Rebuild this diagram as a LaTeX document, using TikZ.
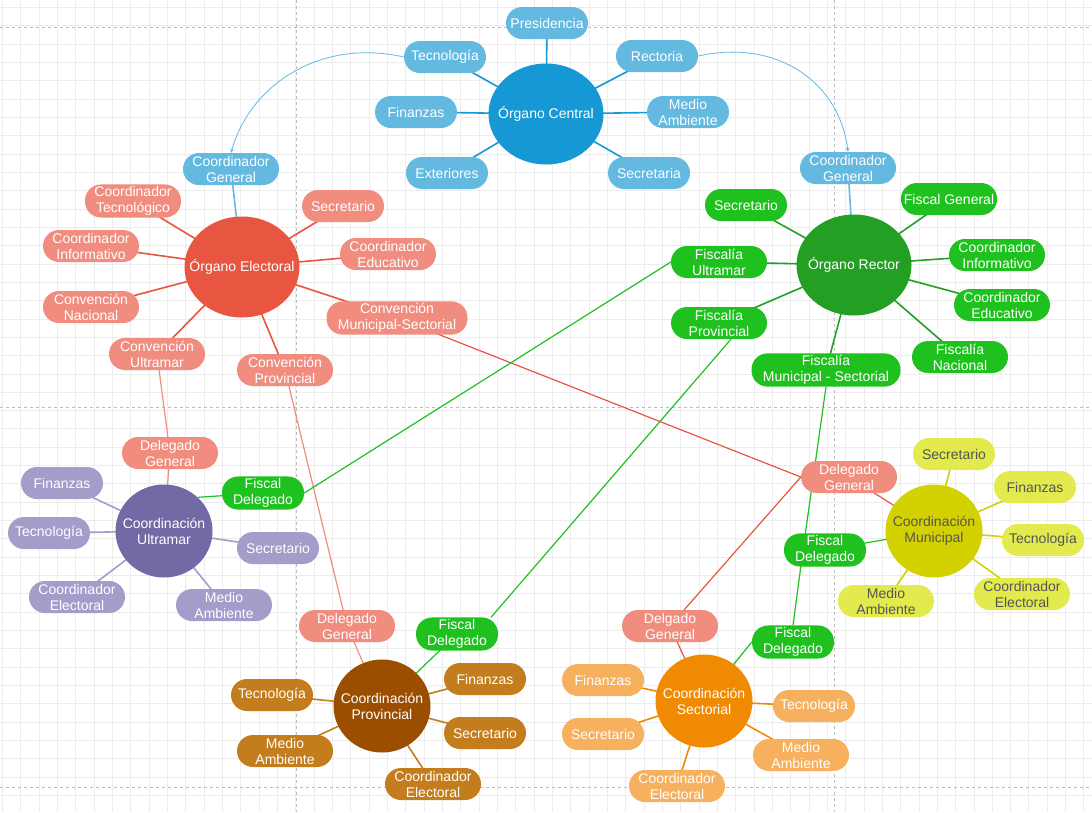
\documentclass[tikz,border=0pt]{standalone}
\usepackage{fontspec}
\setmainfont{Liberation Sans}
\usepackage{tikz}
\usetikzlibrary{arrows,shapes.geometric,backgrounds}

\definecolor{cenhub}{HTML}{1598D3}
\definecolor{censat}{HTML}{64B9E1}
\definecolor{elehub}{HTML}{E85641}
\definecolor{elesat}{HTML}{F08D7F}
\definecolor{rechub}{HTML}{23A023}
\definecolor{recsat}{HTML}{1FC11F}
\definecolor{ulthub}{HTML}{7369A5}
\definecolor{ultsat}{HTML}{A29DC9}
\definecolor{prohub}{HTML}{9B4D00}
\definecolor{prosat}{HTML}{C37D1D}
\definecolor{sechub}{HTML}{F18A03}
\definecolor{secsat}{HTML}{F6B05E}
\definecolor{munhub}{HTML}{D4D100}
\definecolor{munsat}{HTML}{E2EA4D}
\definecolor{muntext}{HTML}{555555}
\definecolor{gridgray}{HTML}{ECECEC}
\definecolor{pagegray}{HTML}{BDBDBD}

\begin{document}
\begin{tikzpicture}[x=1pt,y=-1pt,>=stealth,
  every node/.style={font=\fontsize{14}{16}\selectfont,align=center,text=white},
  hub/.style={ellipse,minimum width=115,minimum height=101,inner xsep=-20pt,inner ysep=0pt},
  chub/.style={hub,minimum width=97,minimum height=93},
  sat/.style={rectangle,rounded corners=16,minimum width=82,minimum height=32,inner xsep=3,inner ysep=2},
  two/.style={sat,minimum width=96},
  mun/.style={fill=munsat,text=muntext},
  spoke/.style={line width=1.6},
  cross/.style={line width=1.2},
  gridline/.style={gridgray,line width=0.8},
  pageline/.style={pagegray,dashed,line width=0.8}]
\useasboundingbox (0,0) rectangle (1092,812);

% Organo Central
\node[hub,fill=cenhub] (central) at (546,114) {Órgano Central};
\node[sat,fill=censat] (pres) at (547,23) {Presidencia};
\node[sat,fill=censat] (tec) at (445,57) {Tecnología};
\node[sat,fill=censat] (fin) at (416,112) {Finanzas};
\node[sat,fill=censat] (ext) at (447,173) {Exteriores};
\node[sat,fill=censat] (rect) at (657,56) {Rectoria};
\node[sat,fill=censat] (medc) at (688,112) {Medio\\Ambiente};
\node[sat,fill=censat] (secc) at (649,173) {Secretaria};

% Organo Electoral
\node[hub,fill=elehub] (elec) at (242,267) {Órgano Electoral};
\node[two,fill=censat] (ecg) at (231,169) {Coordinador\\General};
\node[two,fill=elesat] (ect) at (133,201) {Coordinador\\Tecnológico};
\node[two,fill=elesat] (eci) at (91,246) {Coordinador\\Informativo};
\node[two,fill=elesat] (ecn) at (91,307) {Convención\\Nacional};
\node[two,fill=elesat] (ecu) at (157,354) {Convención\\Ultramar};
\node[two,fill=elesat] (ecp) at (285,370) {Convención\\Provincial};
\node[two,fill=elesat,minimum width=141] (ecms) at (397,318) {Convención\\Municipal-Sectorial};
\node[two,fill=elesat] (ece) at (388,254) {Coordinador\\Educativo};
\node[sat,fill=elesat] (esec) at (343,206) {Secretario};

% Organo Rector
\node[hub,fill=rechub] (rector) at (854,265) {Órgano Rector};
\node[two,fill=censat] (rcg) at (848,168) {Coordinador\\General};
\node[sat,fill=recsat] (rsec) at (746,205) {Secretario};
\node[sat,fill=recsat] (rfg) at (949,199) {Fiscal General};
\node[two,fill=recsat] (rci) at (997,255) {Coordinador\\Informativo};
\node[two,fill=recsat] (rce) at (1002,305) {Coordinador\\Educativo};
\node[two,fill=recsat] (rfn) at (960,357) {Fiscalía\\Nacional};
\node[two,fill=recsat,minimum width=149] (rfms) at (826,370) {Fiscalía\\Municipal - Sectorial};
\node[two,fill=recsat] (rfp) at (719,323) {Fiscalía\\Provincial};
\node[two,fill=recsat] (rfu) at (719,262) {Fiscalía\\Ultramar};

% Coordinacion Ultramar
\node[chub,fill=ulthub] (ultra) at (164,531) {Coordinación\\Ultramar};
\node[two,fill=elesat] (udg) at (170,453) {Delegado\\General};
\node[sat,fill=ultsat] (ufin) at (62,483) {Finanzas};
\node[sat,fill=ultsat] (utec) at (49,533) {Tecnología};
\node[two,fill=ultsat] (uce) at (77,597) {Coordinador\\Electoral};
\node[two,fill=ultsat] (uma) at (224,605) {Medio\\Ambiente};
\node[sat,fill=ultsat] (usec) at (278,548) {Secretario};
\node[sat,fill=recsat] (ufd) at (263,493) {Fiscal\\Delegado};

% Coordinacion Provincial
\node[chub,fill=prohub] (prov) at (382,706) {Coordinación\\Provincial};
\node[two,fill=elesat] (pdg) at (347,626) {Delegado\\General};
\node[sat,fill=recsat] (pfd) at (457,634) {Fiscal\\Delegado};
\node[sat,fill=prosat] (pfin) at (485,679) {Finanzas};
\node[sat,fill=prosat] (psec) at (485,733) {Secretario};
\node[two,fill=prosat] (pce) at (433,784) {Coordinador\\Electoral};
\node[two,fill=prosat] (pma) at (285,751) {Medio\\Ambiente};
\node[sat,fill=prosat] (ptec) at (272,695) {Tecnología};

% Coordinacion Sectorial
\node[chub,fill=sechub] (sect) at (704,701) {Coordinación\\Sectorial};
\node[two,fill=elesat] (sdg) at (670,626) {Delgado\\General};
\node[sat,fill=recsat] (sfd) at (793,642) {Fiscal\\Delegado};
\node[sat,fill=secsat] (sfin) at (603,680) {Finanzas};
\node[sat,fill=secsat] (ssec) at (603,734) {Secretario};
\node[two,fill=secsat] (sce) at (677,786) {Coordinador\\Electoral};
\node[two,fill=secsat] (sma) at (801,755) {Medio\\Ambiente};
\node[sat,fill=secsat] (stec) at (814,706) {Tecnología};

% Coordinacion Municipal
\node[chub,fill=munhub,text=muntext] (muni) at (934,531) {Coordinación\\Municipal};
\node[two,fill=elesat] (mdg) at (849,477) {Delegado\\General};
\node[sat,fill=recsat] (mfd) at (825,550) {Fiscal\\Delegado};
\node[sat,mun] (msec) at (954,454) {Secretario};
\node[sat,mun] (mfin) at (1035,487) {Finanzas};
\node[sat,mun] (mtec) at (1043,540) {Tecnología};
\node[two,mun] (mce) at (1022,594) {Coordinador\\Electoral};
\node[two,mun] (mma) at (886,601) {Medio\\Ambiente};

\begin{scope}[on background layer]
\fill[white] (0,0) rectangle (1092,812);
\foreach \i in {0,...,59} \draw[gridline] ({2.4+18.33*\i},0) -- ++(0,812);
\foreach \j in {0,...,44} \draw[gridline] (0,{7.3+18.33*\j}) -- ++(1092,0);
\draw[pageline] (0,27) -- (1092,27);
\draw[pageline] (0,407) -- (1092,407);
\draw[pageline] (0,787) -- (1092,787);
\draw[pageline] (296,0) -- (296,812);
\draw[pageline] (834,0) -- (834,812);
\end{scope}

\begin{scope}[on background layer]
\foreach \n in {pres,tec,fin,ext,rect,medc,secc} \draw[spoke,cenhub] (central.center) -- (\n.center);
\foreach \n in {ect,eci,ecn,ecu,ecp,ecms,ece,esec} \draw[spoke,elehub] (elec.center) -- (\n.center);
\draw[spoke,censat] (elec.center) -- (ecg.center);
\foreach \n in {rsec,rfg,rci,rce,rfn,rfms,rfp,rfu} \draw[spoke,rechub] (rector.center) -- (\n.center);
\draw[spoke,censat] (rector.center) -- (rcg.center);
\foreach \n in {ufin,utec,uce,uma,usec} \draw[spoke,ultsat] (ultra.center) -- (\n.center);
\foreach \n in {pfin,psec,pce,pma,ptec} \draw[spoke,prosat] (prov.center) -- (\n.center);
\foreach \n in {sfin,ssec,sce,sma,stec} \draw[spoke,sechub] (sect.center) -- (\n.center);
\foreach \n in {msec,mfin,mtec,mce,mma} \draw[spoke,munhub] (muni.center) -- (\n.center);
% delegados
\draw[cross,elesat] (ecu.center) -- (udg.center) -- (ultra.center);
\draw[cross,elesat] (ecp.center) -- (pdg.center) -- (prov.center);
\draw[cross,elehub] (ecms.center) -- (mdg.west) -- (sdg.center);
\draw[cross,elehub] (mdg.center) -- (muni.center);
\draw[cross,elehub] (sdg.center) -- (sect.center);
% fiscales
\draw[cross,recsat] (rfu.west) -- (ufd.east);
\draw[cross,recsat] (ufd.center) -- (ultra.45);
\draw[cross,recsat] ([xshift=12]rfp.south) -- ([xshift=34]pfd.north);
\draw[cross,recsat] (pfd.center) -- (prov.center);
\draw[cross,recsat] (rfms.south) -- ([xshift=-22]mfd.center) -- (sfd.north);
\draw[cross,recsat] (mfd.center) -- (muni.center);
\draw[cross,recsat] (sfd.west) -- (sect.center);
\end{scope}

\draw[censat,line width=0.8,->] (tec.west) .. controls (320,38) and (250,85) .. (ecg.north);
\draw[censat,line width=0.8,->] (rect.east) .. controls (780,38) and (840,85) .. (rcg.north);
\end{tikzpicture}
\end{document}
